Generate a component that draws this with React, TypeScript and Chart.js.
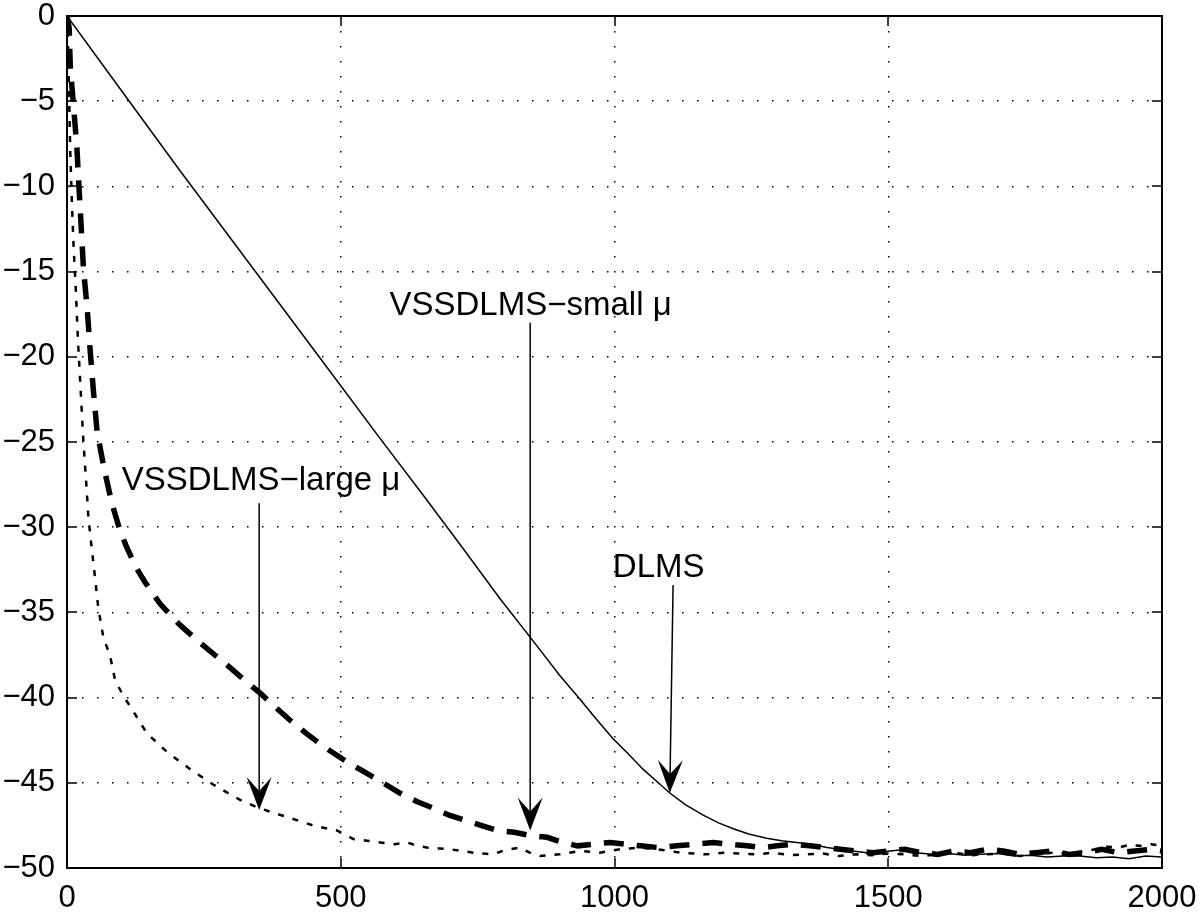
import React, { useEffect, useRef } from "react";
import { Chart, registerables } from "chart.js";

Chart.register(...registerables);

// ---- data (iteration, MSE in dB) ----
const dlmsIter = [0, 100, 200, 300, 400, 500, 572, 650, 720, 791, 864, 900, 937, 965, 997, 1025, 1052, 1080, 1101, 1130, 1162, 1190, 1217, 1245, 1278, 1305, 1333, 1360, 1388, 1420, 1461, 1490, 1521, 1550, 1580, 1610, 1640, 1670, 1700, 1730, 1760, 1790, 1820, 1850, 1880, 1910, 1940, 1970, 2000];
const dlmsMse = [0, -4.4, -8.8, -13.1, -17.4, -21.7, -24.8, -28.1, -31.1, -34.2, -37.2, -38.7, -40.1, -41.2, -42.4, -43.3, -44.2, -45.0, -45.6, -46.3, -46.9, -47.35, -47.7, -48.0, -48.25, -48.4, -48.5, -48.6, -48.8, -48.95, -49.1, -49.05, -48.95, -49.1, -49.2, -49.15, -49.25, -49.2, -49.15, -49.3, -49.25, -49.35, -49.3, -49.3, -49.4, -49.35, -49.45, -49.3, -49.35];

const smallIter = [0, 4, 6, 12, 18, 22, 26, 30, 37, 42, 48, 55, 68, 82, 95, 108, 125, 142, 170, 205, 240, 270, 300, 325, 355, 382, 410, 437, 470, 508, 540, 577, 608, 639, 670, 698, 727, 756, 787, 817, 847, 877, 905, 933, 962, 992, 1020, 1048, 1080, 1114, 1147, 1180, 1210, 1242, 1270, 1297, 1327, 1357, 1385, 1412, 1442, 1472, 1500, 1530, 1560, 1590, 1620, 1650, 1680, 1710, 1740, 1770, 1800, 1830, 1860, 1890, 1920, 1950, 1980, 2000];
const smallMse = [0, -0.7, -3.0, -5.3, -7.7, -10.1, -12.4, -14.8, -17.2, -19.5, -21.9, -24.4, -26.6, -28.6, -30.0, -31.1, -32.3, -33.2, -34.5, -35.7, -36.7, -37.5, -38.3, -39.0, -39.8, -40.6, -41.4, -42.1, -42.9, -43.7, -44.3, -45.0, -45.6, -46.1, -46.5, -46.9, -47.2, -47.5, -47.8, -47.9, -48.1, -48.2, -48.5, -48.7, -48.6, -48.5, -48.6, -48.7, -48.8, -48.7, -48.6, -48.5, -48.6, -48.7, -48.8, -48.7, -48.6, -48.7, -48.8, -48.9, -49.0, -49.1, -49.0, -48.9, -49.1, -49.2, -49.0, -49.1, -48.9, -49.0, -49.2, -49.1, -49.0, -49.2, -49.1, -48.9, -49.1, -49.0, -48.9, -49.0];

const largeIter = [0, 2, 4, 6, 9, 12, 16, 20, 25, 30, 36, 39, 45, 51, 57, 66, 79, 88, 103, 119, 146, 183, 225, 267, 316, 352, 401, 449, 493, 523, 548, 572, 598, 621, 640, 657, 680, 700, 720, 742, 760, 778, 795, 809, 827, 845, 864, 882, 900, 918, 937, 955, 973, 992, 1010, 1028, 1047, 1063, 1078, 1100, 1120, 1145, 1169, 1198, 1230, 1260, 1290, 1320, 1350, 1380, 1410, 1440, 1470, 1500, 1530, 1560, 1590, 1620, 1650, 1680, 1710, 1740, 1770, 1800, 1830, 1860, 1880, 1900, 1920, 1940, 1960, 1980, 2000];
const largeMse = [0, -2, -5, -8, -11, -13.5, -16, -19, -22, -25, -27.8, -29.4, -31.2, -32.9, -34.7, -36.4, -37.6, -39.0, -39.9, -40.7, -42.1, -43.2, -44.2, -45.1, -46.0, -46.5, -47.0, -47.5, -47.8, -48.3, -48.4, -48.5, -48.6, -48.5, -48.7, -48.8, -48.85, -48.9, -49.0, -49.1, -49.15, -49.2, -49.0, -48.9, -48.8, -49.1, -49.3, -49.25, -49.2, -49.1, -49.0, -49.05, -49.1, -49.0, -48.9, -48.85, -48.8, -48.85, -48.9, -49.0, -49.1, -49.15, -49.2, -49.1, -49.15, -49.2, -49.1, -49.25, -49.2, -49.15, -49.3, -49.2, -49.25, -49.15, -49.2, -49.3, -49.2, -49.1, -49.25, -49.2, -49.15, -49.3, -49.2, -49.1, -49.15, -49.0, -48.9, -48.75, -48.8, -48.65, -48.7, -48.6, -48.7];

const xTickStep = 500;
const yTickStep = 5;

// annotation labels: text, text anchor (iteration, dB), arrow start, arrow tip
const annotationTexts = ["VSSDLMS\u2212small \u03bc", "VSSDLMS\u2212large \u03bc", "DLMS"];
const annotationTextAt = [[589, -17.0], [100, -27.3], [997, -32.4]];
const annotationArrowFrom = [[846, -18.0], [351, -28.6], [1107, -33.4]];
const annotationArrowTo = [[846, -47.8], [351, -46.6], [1101, -45.6]];

const FONT = '"Liberation Sans", Arial, Helvetica, sans-serif';

function toPoints(xs: number[], ys: number[]) {
  return xs.map((x, i) => ({ x, y: ys[i] }));
}

const framePlugin = {
  id: "matlabFrame",
  afterDatasetsDraw(chart: any) {
    const { ctx, chartArea: a, scales } = chart;
    const xs = scales.x;
    const ys = scales.y;
    ctx.save();
    ctx.strokeStyle = "#000";
    ctx.lineWidth = 1.5;
    ctx.beginPath();
    const tl = 10;
    xs.ticks.forEach((t: any) => {
      const px = Math.round(xs.getPixelForValue(t.value));
      ctx.moveTo(px, a.bottom);
      ctx.lineTo(px, a.bottom - tl);
      ctx.moveTo(px, a.top);
      ctx.lineTo(px, a.top + tl);
    });
    ys.ticks.forEach((t: any) => {
      const py = Math.round(ys.getPixelForValue(t.value));
      ctx.moveTo(a.left, py);
      ctx.lineTo(a.left + tl, py);
      ctx.moveTo(a.right, py);
      ctx.lineTo(a.right - tl, py);
    });
    ctx.stroke();
    ctx.lineWidth = 2;
    ctx.strokeRect(a.left, a.top, a.right - a.left, a.bottom - a.top);

    // annotations
    ctx.fillStyle = "#000";
    ctx.font = `33px ${FONT}`;
    ctx.textAlign = "left";
    ctx.textBaseline = "middle";
    annotationTexts.forEach((txt, i) => {
      const [tx, ty] = annotationTextAt[i];
      ctx.fillText(txt, xs.getPixelForValue(tx), ys.getPixelForValue(ty));
      const [fx, fy] = annotationArrowFrom[i];
      const [ex, ey] = annotationArrowTo[i];
      const x1 = xs.getPixelForValue(fx);
      const y1 = ys.getPixelForValue(fy);
      const x2 = xs.getPixelForValue(ex);
      const y2 = ys.getPixelForValue(ey);
      const dx = x2 - x1;
      const dy = y2 - y1;
      const len = Math.hypot(dx, dy);
      const ux = dx / len;
      const uy = dy / len;
      const nx = -uy;
      const ny = ux;
      const L = 33;
      const W = 12.5;
      const N = 19;
      ctx.lineWidth = 1.5;
      ctx.beginPath();
      ctx.moveTo(x1, y1);
      ctx.lineTo(x2 - ux * N, y2 - uy * N);
      ctx.stroke();
      ctx.beginPath();
      ctx.moveTo(x2, y2);
      ctx.lineTo(x2 - ux * L + nx * W, y2 - uy * L + ny * W);
      ctx.lineTo(x2 - ux * N, y2 - uy * N);
      ctx.lineTo(x2 - ux * L - nx * W, y2 - uy * L - ny * W);
      ctx.closePath();
      ctx.fill();
    });
    ctx.restore();
  },
};

export default function App() {
  const ref = useRef<HTMLCanvasElement>(null);
  useEffect(() => {
    if (!ref.current) return;
    const chart = new Chart(ref.current, {
      type: "line",
      data: {
        datasets: [
          {
            label: "DLMS",
            data: toPoints(dlmsIter, dlmsMse),
            borderColor: "#000",
            borderWidth: 1.5,
            pointRadius: 0,
            tension: 0,
            fill: false,
          },
          {
            label: "VSSDLMS-small",
            data: toPoints(smallIter, smallMse),
            borderColor: "#000",
            borderWidth: 5.5,
            borderDash: [20, 13],
            pointRadius: 0,
            tension: 0,
            fill: false,
          },
          {
            label: "VSSDLMS-large",
            data: toPoints(largeIter, largeMse),
            borderColor: "#000",
            borderWidth: 2.5,
            borderDash: [6, 9],
            pointRadius: 0,
            tension: 0,
            fill: false,
          },
        ],
      },
      options: {
        animation: false,
        responsive: false,
        maintainAspectRatio: false,
        layout: { padding: { top: 16, right: 38, left: 0, bottom: 0 } },
        plugins: { legend: { display: false }, tooltip: { enabled: false } },
        scales: {
          x: {
            type: "linear",
            min: 0,
            max: 2000,
            ticks: {
              stepSize: xTickStep,
              color: "#000",
              font: { family: FONT, size: 31 },
              padding: 12,
              maxRotation: 0,
              callback: (v: any) => String(v),
            },
            grid: { color: "#000", lineWidth: 1.5, drawTicks: false },
            border: { display: false, dash: [1.5, 13.5] },
            afterFit: (s: any) => {
              s.height = 49;
              s.paddingLeft = 0;
              s.paddingRight = 0;
              s.paddingTop = 0;
              s.paddingBottom = 0;
            },
          },
          y: {
            type: "linear",
            min: -50,
            max: 0,
            ticks: {
              stepSize: yTickStep,
              color: "#000",
              font: { family: FONT, size: 31 },
              padding: 12,
              callback: (v: any) => (v < 0 ? "\u2212" + Math.abs(v) : String(v)),
            },
            grid: { color: "#000", lineWidth: 1.5, drawTicks: false },
            border: { display: false, dash: [1.5, 13.5] },
            afterFit: (s: any) => {
              s.width = 67;
              s.paddingLeft = 0;
              s.paddingRight = 0;
              s.paddingTop = 0;
              s.paddingBottom = 0;
            },
          },
        },
      },
      plugins: [framePlugin],
    });
    return () => chart.destroy();
  }, []);
  return (
    <div style={{ position: "absolute", left: 0, top: 0, width: 1200, height: 917, background: "#fff" }}>
      <canvas ref={ref} width={1200} height={917} style={{ display: "block" }} />
    </div>
  );
}
